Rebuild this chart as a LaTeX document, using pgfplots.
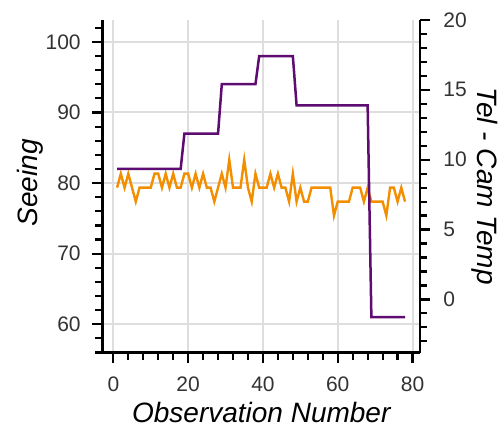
\documentclass[border=0pt]{standalone}
\usepackage{pgfplots}
\pgfplotsset{compat=1.18}
\usepackage{pgfplotstable}
\usepackage{fontspec}
\setmainfont{Liberation Sans}

\definecolor{seeingpurple}{HTML}{5E0C72}
\definecolor{temporange}{HTML}{F28E00}
\definecolor{gridgray}{HTML}{DEDEDE}
\definecolor{ticktext}{HTML}{333333}

% seeing (left axis), step values
\pgfplotstableread{
obs seeing
1 82
18 82
19 87
28 87
29 94
38 94
39 98
48 98
49 91
68 91
69 61
78 61
}\seeingtable

% tel - cam temperature (right axis)
\pgfplotstableread{
obs temp
1 8
2 9
3 8
4 9
5 8
6 7
7 8
8 8
9 8
10 8
11 9
12 9
13 8
14 9
15 8
16 9
17 8
18 8
19 9
20 9
21 8
22 9
23 8
24 9
25 8
26 8
27 7
28 8
29 9
30 8
31 10
32 8
33 8
34 8
35 10
36 8
37 7
38 9
39 8
40 8
41 8
42 9
43 8
44 9
45 8
46 8
47 7
48 9
49 7
50 8
51 7
52 7
53 8
54 8
55 8
56 8
57 8
58 8
59 6
60 7
61 7
62 7
63 7
64 8
65 8
66 8
67 7
68 8
69 7
70 7
71 7
72 7
73 6
74 8
75 8
76 7
77 8
78 7
}\temptable

\pgfplotsset{
  base/.style={
    scale only axis, width=158.75pt, height=166.25pt,
    xmin=-2.9, xmax=82,
    tick align=outside,
    major tick length=5pt, minor tick length=3.5pt,
    major tick style={black, line width=1.1pt},
    minor tick style={black, line width=1.1pt},
    axis line style={black, line width=1.3pt, -},
    label style={font=\fontsize{14}{16}\selectfont\itshape},
    tick label style={font=\fontsize{10.5}{12}\selectfont, text=ticktext},
    /pgf/number format/assume math mode=true,
  },
}

\begin{document}
\begin{tikzpicture}
% frame, grid and left axis
\begin{axis}[base,
  ymin=56, ymax=103.1,
  axis x line*=bottom, axis y line*=left,
  xtick={0,20,...,80}, minor xtick={0,4,...,80},
  ytick={60,70,...,100}, minor ytick={56,58,...,102},
  grid=major, major grid style={gridgray, line width=1pt},
  xlabel={Observation Number}, ylabel={Seeing},
  xlabel style={at={(axis description cs:0.5,0)}, anchor=base, yshift=-34.75pt},
  ylabel style={at={(axis description cs:-0.2283,0.51)}, anchor=center},
  xticklabel style={yshift=-3.8pt},
  yticklabel style={xshift=-2.4pt},
]
\end{axis}
% right axis: temperature
\begin{axis}[base,
  ymin=-3.8, ymax=20,
  axis x line=none, axis y line*=right,
  ytick={0,5,...,20}, minor ytick={-3,-2,...,19},
  ylabel={Tel - Cam Temp},
  ylabel style={at={(axis description cs:1.2047,0.5)}, anchor=center, rotate=180},
  yticklabel style={xshift=3.2pt},
]
\addplot[temporange, line width=1.2pt] table[x=obs, y=temp] {\temptable};
\end{axis}
% seeing on top
\begin{axis}[base,
  ymin=56, ymax=103.1,
  hide axis,
]
\addplot[seeingpurple, line width=1.25pt] table[x=obs, y=seeing] {\seeingtable};
\end{axis}
\pgfresetboundingbox
\useasboundingbox (-51.25pt,-38.75pt) rectangle (200.25pt,176.25pt);
\end{tikzpicture}
\end{document}
